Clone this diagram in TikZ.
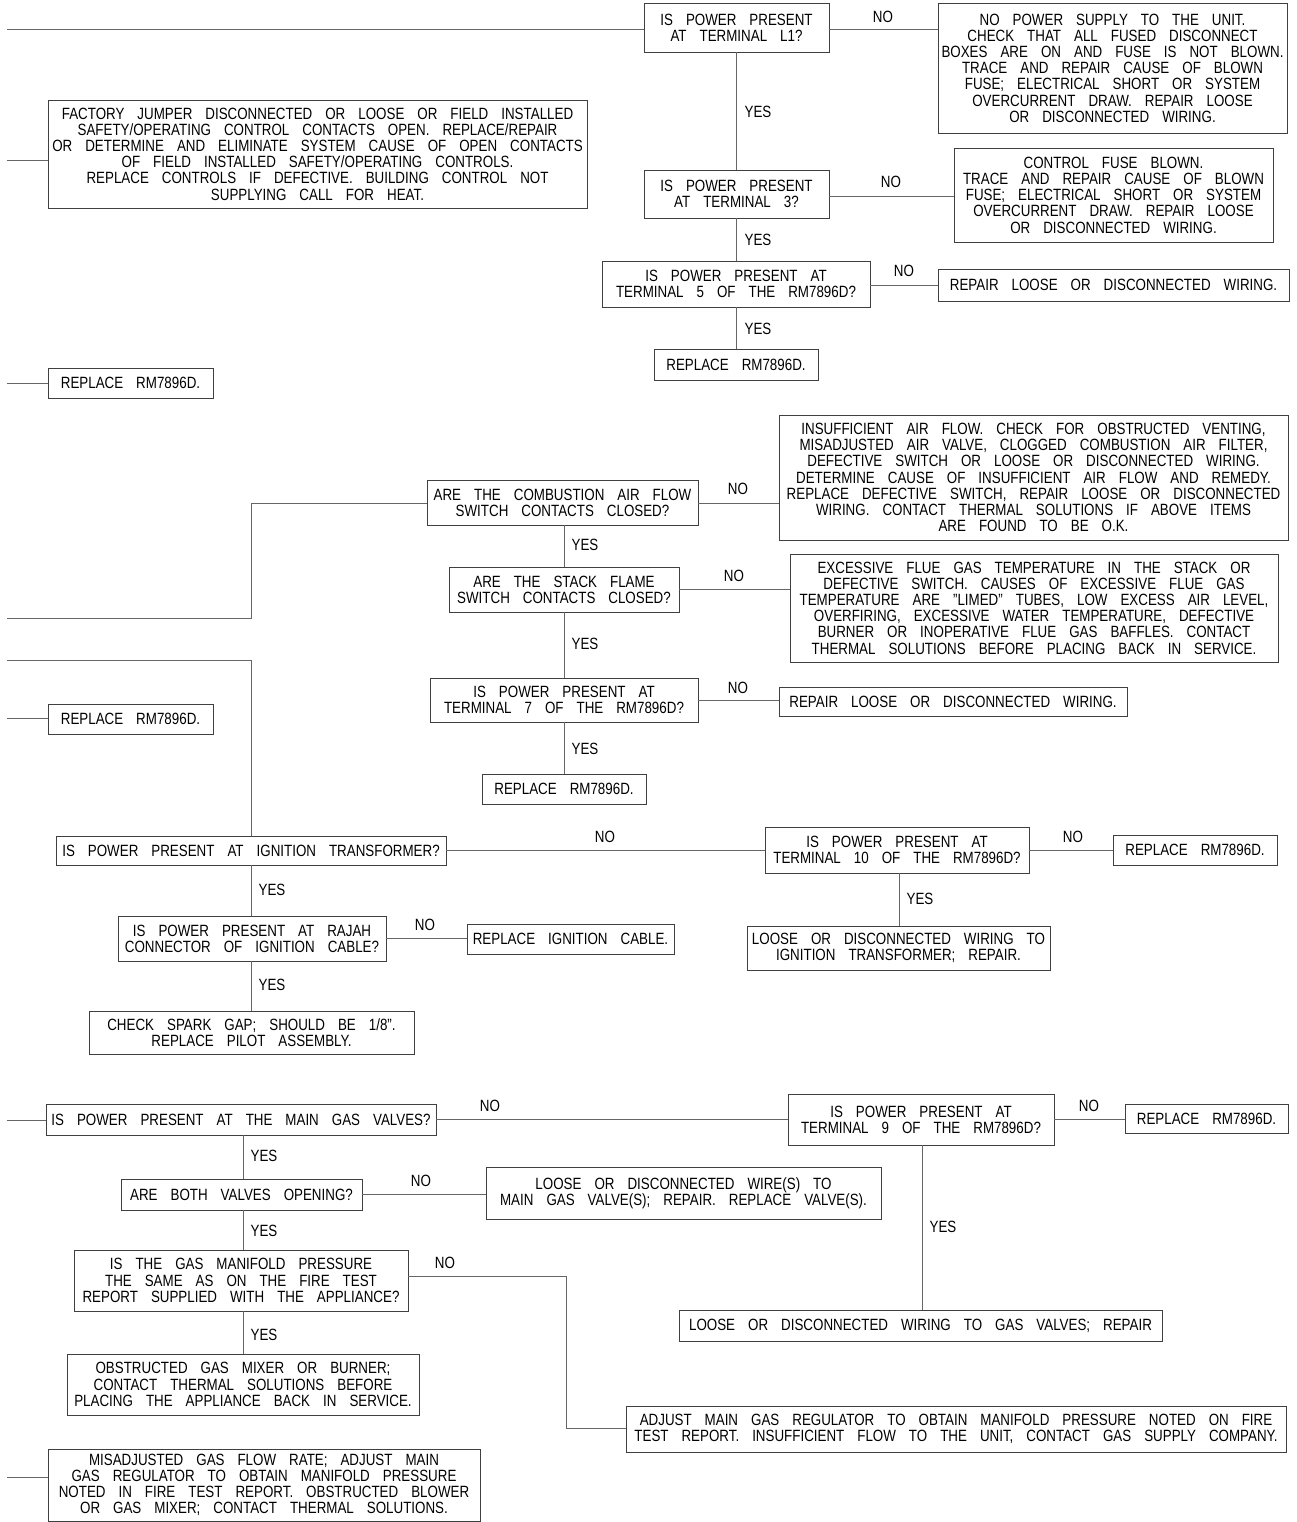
\documentclass[tikz,border=0pt]{standalone}
\usepackage{fontspec}
\setmainfont{Liberation Sans}[FakeStretch=0.82, WordSpace=3.5]
\newcommand\cadtxt{\fontsize{16.3}{16.2}\selectfont}
\newcommand\bx[6]{\node[box, minimum width={(#4-#2)*1pt}, minimum height={(#5-#3)*1pt}] (#1) at ({(#2+#4)/2},{(#3+#5)/2}) {#6};}
\tikzset{
  box/.style={draw=black!75, line width=0.9pt, inner sep=0pt, align=center, font=\cadtxt},
  conn/.style={draw=black!60, line width=0.9pt},
  lbl/.style={inner sep=0pt, font=\cadtxt}
}
\begin{document}
\begin{tikzpicture}[x=1pt,y=-1pt]
\useasboundingbox (0,0) rectangle (1296,1522);
% ---------- top section ----------
\bx{q1}{644}{3}{829}{52}{IS POWER PRESENT\\AT TERMINAL L1?}
\bx{a1}{938}{3}{1287}{133}{NO POWER SUPPLY TO THE UNIT.\\CHECK THAT ALL FUSED DISCONNECT\\BOXES ARE ON AND FUSE IS NOT BLOWN.\\TRACE AND REPAIR CAUSE OF BLOWN\\FUSE; ELECTRICAL SHORT OR SYSTEM\\OVERCURRENT DRAW. REPAIR LOOSE\\OR DISCONNECTED WIRING.}
\bx{q2}{644}{170}{829}{218}{IS POWER PRESENT\\AT TERMINAL 3?}
\bx{a2}{954}{148}{1273}{242}{CONTROL FUSE BLOWN.\\TRACE AND REPAIR CAUSE OF BLOWN\\FUSE; ELECTRICAL SHORT OR SYSTEM\\OVERCURRENT DRAW. REPAIR LOOSE\\OR DISCONNECTED WIRING.}
\bx{l1}{48}{100}{587}{208}{FACTORY JUMPER DISCONNECTED OR LOOSE OR FIELD INSTALLED\\SAFETY/OPERATING CONTROL CONTACTS OPEN. REPLACE/REPAIR\\OR DETERMINE AND ELIMINATE SYSTEM CAUSE OF OPEN CONTACTS\\OF FIELD INSTALLED SAFETY/OPERATING CONTROLS.\\REPLACE CONTROLS IF DEFECTIVE. BUILDING CONTROL NOT\\SUPPLYING CALL FOR HEAT.}
\bx{q3}{602}{261}{870}{307}{IS POWER PRESENT AT\\TERMINAL 5 OF THE RM7896D?}
\bx{a3}{938}{269}{1289}{301}{REPAIR LOOSE OR DISCONNECTED WIRING.}
\bx{a4}{654}{349}{818}{380}{REPLACE RM7896D.}
\bx{l2}{48}{368}{213}{398}{REPLACE RM7896D.}
\coordinate (s1) at (7,29);
\coordinate (s2) at (7,160);
\coordinate (s3) at (7,383);
\draw[conn] (s1) -- (s1 -| q1.west);
\draw[conn] (s2) -- (s2 -| l1.west);
\draw[conn] (s3) -- (s3 -| l2.west);
\draw[conn] (q1.east |- s1) -- (s1 -| a1.west);
\draw[conn] (q1.south) -- (q2.north);
\coordinate (r2) at (829,196);
\draw[conn] (r2) -- (r2 -| a2.west);
\draw[conn] (q2.south) -- (q2.south |- q3.north);
\coordinate (r3) at (870,285);
\draw[conn] (r3) -- (r3 -| a3.west);
\draw[conn] (q3.south) -- (q3.south |- a4.north);
\node[lbl] (n1) at (883,17) {NO};
\node[lbl] (y1) at (758,112) {YES};
\node[lbl] (n2) at (891,182) {NO};
\node[lbl] (y2) at (758,240) {YES};
\node[lbl] (n3) at (904,271) {NO};
\node[lbl] (y3) at (758,329) {YES};
% ---------- middle section ----------
\bx{q4}{427}{480}{698}{525}{ARE THE COMBUSTION AIR FLOW\\SWITCH CONTACTS CLOSED?}
\bx{a5}{779}{415}{1288}{540}{INSUFFICIENT AIR FLOW. CHECK FOR OBSTRUCTED VENTING,\\MISADJUSTED AIR VALVE, CLOGGED COMBUSTION AIR FILTER,\\DEFECTIVE SWITCH OR LOOSE OR DISCONNECTED WIRING.\\DETERMINE CAUSE OF INSUFFICIENT AIR FLOW AND REMEDY.\\REPLACE DEFECTIVE SWITCH, REPAIR LOOSE OR DISCONNECTED\\WIRING. CONTACT THERMAL SOLUTIONS IF ABOVE ITEMS\\ARE FOUND TO BE O.K.}
\bx{q5}{449}{567}{679}{612}{ARE THE STACK FLAME\\SWITCH CONTACTS CLOSED?}
\bx{a6}{790}{554}{1278}{662}{EXCESSIVE FLUE GAS TEMPERATURE IN THE STACK OR\\DEFECTIVE SWITCH. CAUSES OF EXCESSIVE FLUE GAS\\TEMPERATURE ARE ”LIMED” TUBES, LOW EXCESS AIR LEVEL,\\OVERFIRING, EXCESSIVE WATER TEMPERATURE, DEFECTIVE\\BURNER OR INOPERATIVE FLUE GAS BAFFLES. CONTACT\\THERMAL SOLUTIONS BEFORE PLACING BACK IN SERVICE.}
\bx{q6}{430}{678}{698}{722}{IS POWER PRESENT AT\\TERMINAL 7 OF THE RM7896D?}
\bx{a7}{779}{687}{1127}{716}{REPAIR LOOSE OR DISCONNECTED WIRING.}
\bx{a8}{482}{774}{646}{804}{REPLACE RM7896D.}
\bx{l3}{48}{704}{213}{734}{REPLACE RM7896D.}
\coordinate (s4) at (7,618);
\coordinate (k4) at (251,618);
\coordinate (k5) at (251,503);
\draw[conn] (s4) -- (k4) -- (k5) -- (k5 -| q4.west);
\draw[conn] (698,503) -- (a5.west |- 698,503);
\draw[conn] (564,525) -- (564,567);
\coordinate (r5) at (679,589);
\draw[conn] (r5) -- (r5 -| a6.west);
\draw[conn] (q5.south) -- (q5.south |- q6.north);
\coordinate (r6) at (698,700);
\draw[conn] (r6) -- (r6 -| a7.west);
\draw[conn] (q6.south) -- (q6.south |- a8.north);
\coordinate (s5) at (7,718);
\draw[conn] (s5) -- (s5 -| l3.west);
\node[lbl] (n4) at (738,489) {NO};
\node[lbl] (y4) at (585,545) {YES};
\node[lbl] (n5) at (734,576) {NO};
\node[lbl] (y5) at (585,644) {YES};
\node[lbl] (n6) at (738,688) {NO};
\node[lbl] (y6) at (585,749) {YES};
% ---------- ignition section ----------
\bx{q7}{56}{836}{446}{865}{IS POWER PRESENT AT IGNITION TRANSFORMER?}
\bx{q8}{765}{827}{1029}{873}{IS POWER PRESENT AT\\TERMINAL 10 OF THE RM7896D?}
\bx{a9}{1113}{835}{1277}{865}{REPLACE RM7896D.}
\bx{a10}{747}{926}{1050}{970}{LOOSE OR DISCONNECTED WIRING TO\\IGNITION TRANSFORMER; REPAIR.}
\bx{q9}{118}{916}{386}{961}{IS POWER PRESENT AT RAJAH\\CONNECTOR OF IGNITION CABLE?}
\bx{a11}{467}{924}{674}{954}{REPLACE IGNITION CABLE.}
\bx{a12}{89}{1011}{414}{1054}{CHECK SPARK GAP; SHOULD BE 1/8”.\\REPLACE PILOT ASSEMBLY.}
\coordinate (s6) at (7,660);
\coordinate (k6) at (251,660);
\draw[conn] (s6) -- (k6) -- (k6 |- q7.north);
\coordinate (r7) at (446,850);
\draw[conn] (r7) -- (r7 -| q8.west);
\draw[conn] (q8.east |- r7) -- (r7 -| a9.west);
\draw[conn] (899,873) -- (899,926);
\draw[conn] (251,865) -- (251,916);
\coordinate (r9) at (386,938);
\draw[conn] (r9) -- (r9 -| a11.west);
\draw[conn] (251,961) -- (251,1011);
\node[lbl] (n7) at (605,837) {NO};
\node[lbl] (n8) at (1073,837) {NO};
\node[lbl] (y8) at (920,899) {YES};
\node[lbl] (y7) at (272,890) {YES};
\node[lbl] (n9) at (425,925) {NO};
\node[lbl] (y9) at (272,985) {YES};
% ---------- gas valve section ----------
\bx{q10}{46}{1104}{436}{1135}{IS POWER PRESENT AT THE MAIN GAS VALVES?}
\bx{q11}{788}{1094}{1054}{1145}{IS POWER PRESENT AT\\TERMINAL 9 OF THE RM7896D?}
\bx{a13}{1125}{1104}{1288}{1133}{REPLACE RM7896D.}
\bx{a14}{679}{1310}{1162}{1341}{LOOSE OR DISCONNECTED WIRING TO GAS VALVES; REPAIR}
\bx{q12}{121}{1179}{362}{1210}{ARE BOTH VALVES OPENING?}
\bx{a15}{486}{1167}{881}{1219}{LOOSE OR DISCONNECTED WIRE(S) TO\\MAIN GAS VALVE(S); REPAIR. REPLACE VALVE(S).}
\bx{q13}{74}{1250}{408}{1311}{IS THE GAS MANIFOLD PRESSURE\\THE SAME AS ON THE FIRE TEST\\REPORT SUPPLIED WITH THE APPLIANCE?}
\bx{a16}{626}{1406}{1286}{1452}{ADJUST MAIN GAS REGULATOR TO OBTAIN MANIFOLD PRESSURE NOTED ON FIRE\\TEST REPORT. INSUFFICIENT FLOW TO THE UNIT, CONTACT GAS SUPPLY COMPANY.}
\bx{a17}{67}{1354}{419}{1415}{OBSTRUCTED GAS MIXER OR BURNER;\\CONTACT THERMAL SOLUTIONS BEFORE\\PLACING THE APPLIANCE BACK IN SERVICE.}
\bx{l4}{48}{1449}{480}{1521}{MISADJUSTED GAS FLOW RATE; ADJUST MAIN\\GAS REGULATOR TO OBTAIN MANIFOLD PRESSURE\\NOTED IN FIRE TEST REPORT. OBSTRUCTED BLOWER\\OR GAS MIXER; CONTACT THERMAL SOLUTIONS.}
\coordinate (s7) at (7,1120);
\draw[conn] (s7) -- (s7 -| q10.west);
\coordinate (r10) at (436,1119);
\draw[conn] (r10) -- (r10 -| q11.west);
\draw[conn] (q11.east |- r10) -- (r10 -| a13.west);
\draw[conn] (922,1145) -- (922,1310);
\draw[conn] (243,1135) -- (243,1179);
\coordinate (r12) at (362,1194);
\draw[conn] (r12) -- (r12 -| a15.west);
\draw[conn] (243,1210) -- (243,1250);
\coordinate (r13) at (408,1276);
\coordinate (k13) at (566,1276);
\coordinate (k14) at (566,1428);
\draw[conn] (r13) -- (k13) -- (k14) -- (k14 -| a16.west);
\draw[conn] (243,1311) -- (243,1354);
\coordinate (s8) at (7,1477);
\draw[conn] (s8) -- (s8 -| l4.west);
\node[lbl] (n10) at (490,1106) {NO};
\node[lbl] (n11) at (1089,1106) {NO};
\node[lbl] (y11) at (943,1227) {YES};
\node[lbl] (y10) at (264,1156) {YES};
\node[lbl] (n12) at (421,1181) {NO};
\node[lbl] (y12) at (264,1231) {YES};
\node[lbl] (n13) at (445,1263) {NO};
\node[lbl] (y13) at (264,1335) {YES};
\end{tikzpicture}
\end{document}
